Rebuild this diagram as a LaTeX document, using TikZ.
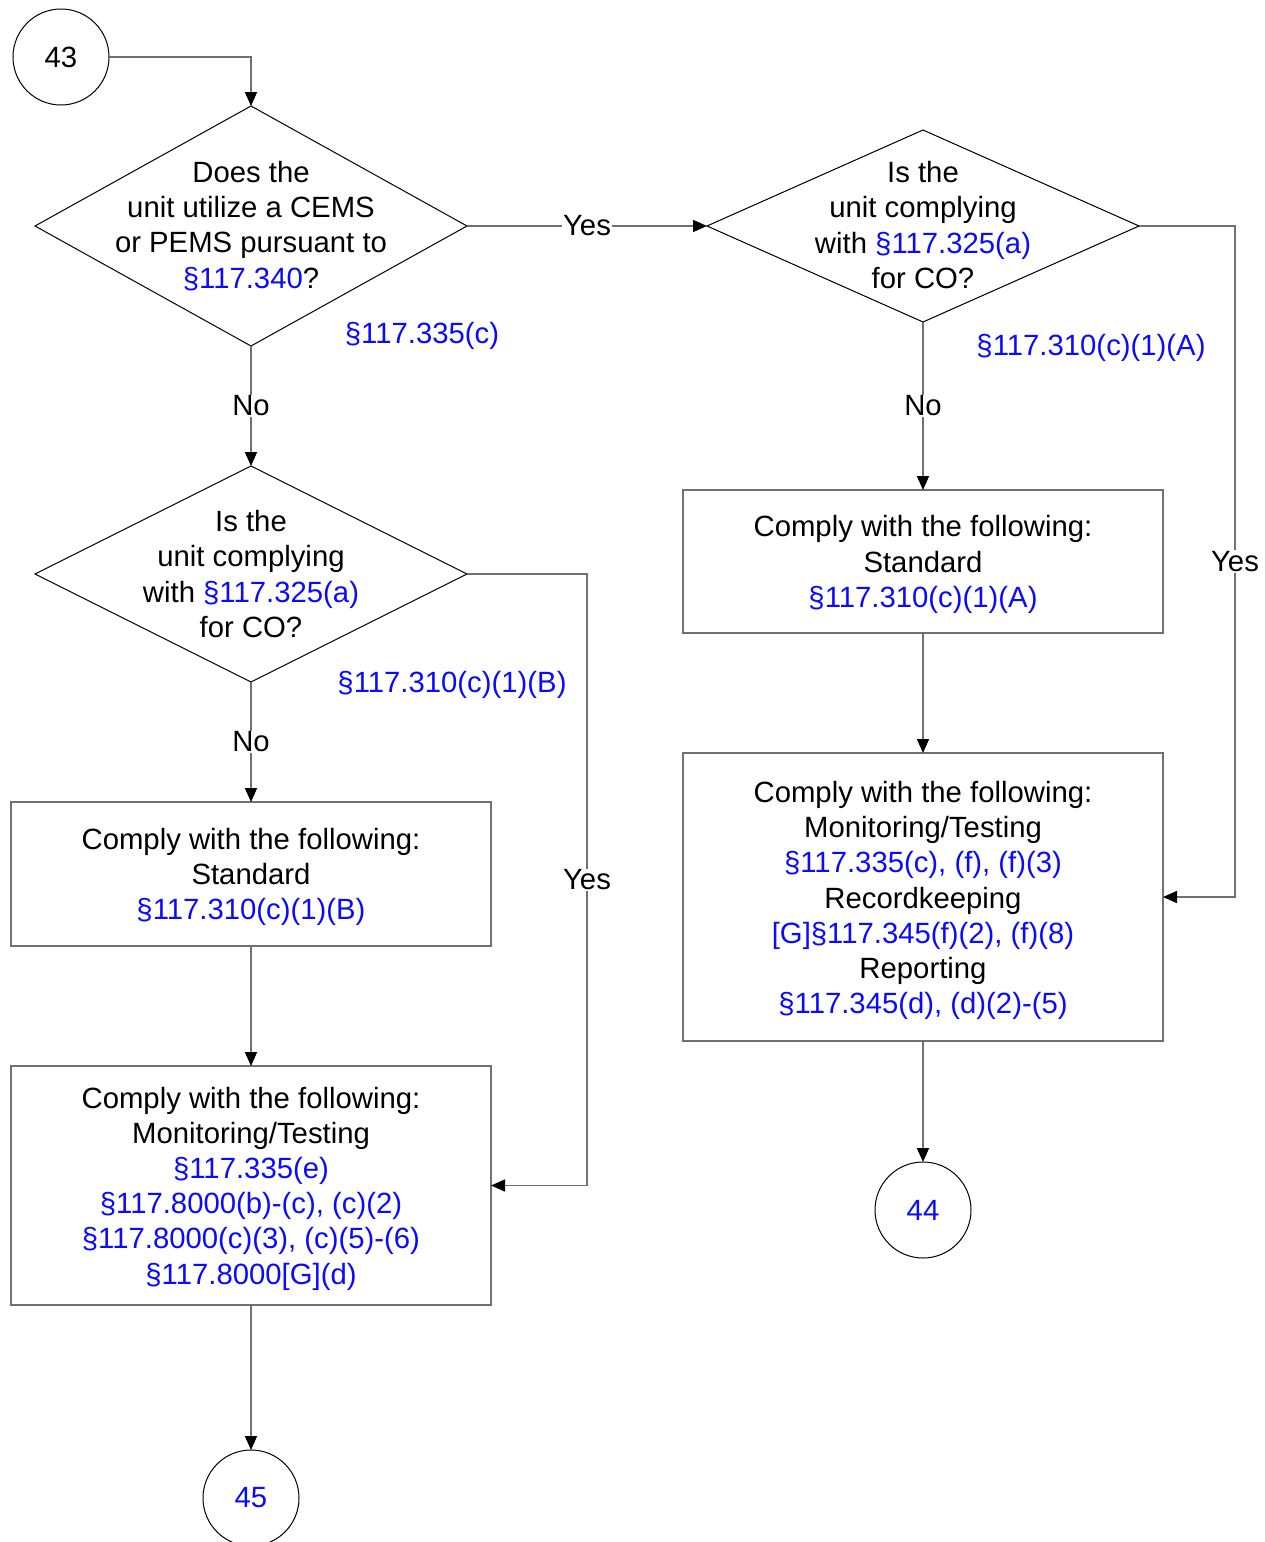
\documentclass[tikz,border=0pt]{standalone}
\usepackage{fontspec}
\setmainfont{Liberation Sans}
\usetikzlibrary{shapes.geometric,arrows.meta}
\definecolor{refblue}{RGB}{10,10,255}
\definecolor{lin}{RGB}{112,112,112}
\begin{document}
\begin{tikzpicture}[x=1pt,y=-1pt,
 every node/.style={font=\fontsize{29.3}{35.2}\selectfont},
 dia/.style={diamond, draw=black, line width=1pt, minimum width=432pt, inner sep=0pt, outer sep=0pt},
 txt/.style={align=center, inner sep=0pt},
 box/.style={rectangle, draw=lin, line width=1.5pt, minimum width=480pt, inner sep=0pt, outer sep=0pt},
 conn/.style={circle, draw=black, line width=1pt, minimum size=96pt, inner sep=0pt, outer sep=0pt},
 arr/.style={draw=lin, line width=1.5pt, -{Triangle[length=14pt,width=12pt,color=black]}},
 lab/.style={fill=white, inner sep=1pt},
 ref/.style={text=refblue, inner sep=0pt}
]
\useasboundingbox (0,0) rectangle (1264,1542);
\clip (0,0) rectangle (1264,1542);

% decision nodes
\node[conn] (c43) at (61,57) {43};
\node[dia, minimum height=240pt] (d1) at (251,226) {};
\node[txt] (t1) at (251,226) {Does the\\unit utilize a CEMS\\or PEMS pursuant to\\\textcolor{refblue}{§117.340}?};
\node[dia, minimum height=192pt] (d2) at (923,226) {};
\node[txt] (t2) at (923,225) {Is the\\unit complying\\with \textcolor{refblue}{§117.325(a)}\\for CO?};
\node[dia, minimum height=216pt] (d3) at (251,574) {};
\node[txt] (t3) at (251,574) {Is the\\unit complying\\with \textcolor{refblue}{§117.325(a)}\\for CO?};

% boxes
\node[box, minimum height=143pt] (r1) at (923,561.5) {};
\node[txt] (r1t) at (923,564.5) {Comply with the following:\\Standard\\\textcolor{refblue}{§117.310(c)(1)(A)}};
\node[box, minimum height=288pt] (r2) at (923,897) {};
\node[txt] (r2t) at (923,900.5) {Comply with the following:\\Monitoring/Testing\\\textcolor{refblue}{§117.335(c), (f), (f)(3)}\\Recordkeeping\\\textcolor{refblue}{[G]§117.345(f)(2), (f)(8)}\\Reporting\\\textcolor{refblue}{§117.345(d), (d)(2)-(5)}};
\node[box, minimum height=144pt] (l1) at (251,874) {};
\node[txt] (l1t) at (251,877) {Comply with the following:\\Standard\\\textcolor{refblue}{§117.310(c)(1)(B)}};
\node[box, minimum height=239pt] (l2) at (251,1185.5) {};
\node[txt] (l2t) at (251,1188.5) {Comply with the following:\\Monitoring/Testing\\\textcolor{refblue}{§117.335(e)}\\\textcolor{refblue}{§117.8000(b)-(c), (c)(2)}\\\textcolor{refblue}{§117.8000(c)(3), (c)(5)-(6)}\\\textcolor{refblue}{§117.8000[G](d)}};

\node[conn, text=refblue] (c44) at (923,1210) {44};
\node[conn, text=refblue] (c45) at (251,1498) {45};

\node[ref] (s1) at (422,336) {§117.335(c)};
\node[ref] (s2) at (1091,348) {§117.310(c)(1)(A)};
\node[ref] (s3) at (452,685) {§117.310(c)(1)(B)};

% connectors
\draw[arr] (c43.east) -| (d1.north);
\draw[arr] (d1.east) -- node[lab]{Yes} (d2.west);
\draw[arr] (d2.south) -- node[lab]{No} (r1.north);
\draw[arr] (r1.south) -- (r2.north);
\draw[arr] (d2.east) -- ++(96,0) |- node[pos=0.25,lab]{Yes} (r2.east);
\draw[arr] (r2.south) -- (c44.north);
\draw[arr] (d1.south) -- node[lab]{No} (d3.north);
\draw[arr] (d3.south) -- node[lab]{No} (l1.north);
\draw[arr] (l1.south) -- (l2.north);
\draw[arr] (d3.east) -- ++(120,0) |- node[pos=0.25,lab]{Yes} (l2.east);
\draw[arr] (l2.south) -- (c45.north);
\end{tikzpicture}
\end{document}
